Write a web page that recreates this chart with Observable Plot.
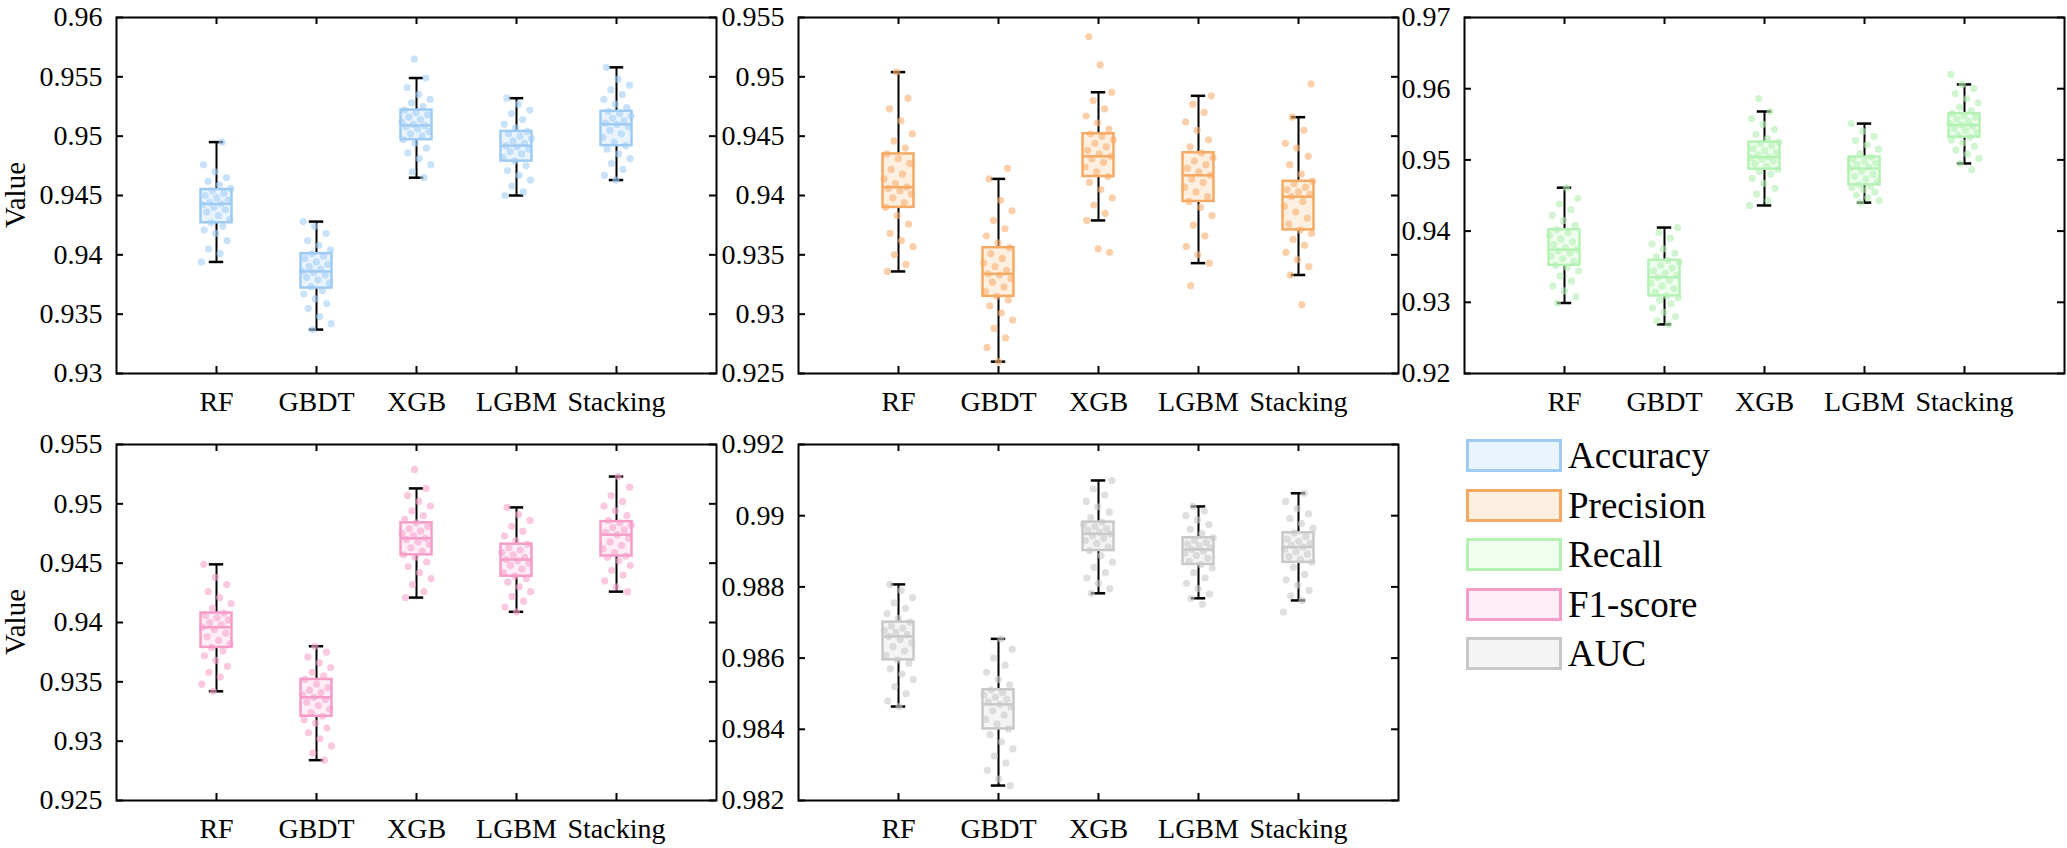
<!DOCTYPE html>
<html><head><meta charset="utf-8">
<script src="https://cdn.jsdelivr.net/npm/d3@7"></script>
<script src="https://cdn.jsdelivr.net/npm/@observablehq/plot@0.6"></script>
<style>
body{margin:0;background:#fff;}
#root{position:relative;width:2067px;height:848px;overflow:hidden;font-family:"Liberation Serif","Times New Roman",serif;background:#fff;}
.panel{position:absolute;}
.ylab{position:absolute;font-size:29px;white-space:nowrap;transform:translate(-50%,-50%) rotate(-90deg);}
.legend{position:absolute;left:1466px;top:439px;}
.item{display:flex;align-items:center;height:33px;margin-bottom:16.5px;}
.sw{width:90px;height:27px;border:3px solid;}
.lt{font-size:37px;margin-left:6px;line-height:33px;color:#000;}
</style></head>
<body><div id="root"></div>
<script>
const models = ["RF","GBDT","XGB","LGBM","Stacking"];
const metrics = ["Accuracy","Precision","Recall","F1-score","AUC"];
const strokeColors = ["#9FCBF3","#F5A962","#B3F2B3","#F59CC8","#C8C8C8"];
const fillColors   = ["#EAF4FE","#FEF0E1","#F0FEF0","#FEEEF6","#F4F4F4"];
const pointColors  = ["#A6D0F7","#F7B174","#B5EFB5","#F7A6CF","#CBCBCB"];

const yDomains = [[0.93,0.96],[0.925,0.955],[0.92,0.97],[0.925,0.955],[0.982,0.992]];
const accuracyTicks  = [0.93,0.935,0.94,0.945,0.95,0.955,0.96];
const precisionTicks = [0.925,0.93,0.935,0.94,0.945,0.95,0.955];
const recallTicks    = [0.92,0.93,0.94,0.95,0.96,0.97];
const f1Ticks        = [0.925,0.93,0.935,0.94,0.945,0.95,0.955];
const aucTicks       = [0.982,0.984,0.986,0.988,0.99,0.992];

// box statistics per model: [whiskerLow, q1, median, q3, whiskerHigh]
const accuracyBox = [
  [0.9394,0.9427,0.9443,0.9455,0.9495],
  [0.9337,0.9372,0.9386,0.9401,0.9428],
  [0.9465,0.9497,0.9509,0.9522,0.9549],
  [0.9450,0.9479,0.9492,0.9504,0.9532],
  [0.9463,0.9492,0.9510,0.9521,0.9558]];
const precisionBox = [
  [0.9336,0.9390,0.9407,0.9435,0.9504],
  [0.9260,0.9315,0.9334,0.9356,0.9414],
  [0.9379,0.9416,0.9433,0.9452,0.9487],
  [0.9343,0.9395,0.9417,0.9436,0.9484],
  [0.9333,0.9371,0.9399,0.9412,0.9466]];
const recallBox = [
  [0.9299,0.9352,0.9374,0.9402,0.9461],
  [0.9269,0.9309,0.9335,0.9359,0.9405],
  [0.9436,0.9487,0.9504,0.9525,0.9568],
  [0.9440,0.9465,0.9488,0.9504,0.9551],
  [0.9495,0.9532,0.9549,0.9565,0.9606]];
const f1Box = [
  [0.9342,0.9379,0.9396,0.9408,0.9449],
  [0.9284,0.9321,0.9337,0.9352,0.9380],
  [0.9421,0.9457,0.9471,0.9484,0.9513],
  [0.9409,0.9439,0.9453,0.9466,0.9497],
  [0.9426,0.9456,0.9474,0.9485,0.9523]];
const aucBox = [
  [0.98464,0.98595,0.98661,0.98701,0.98807],
  [0.98242,0.98401,0.98470,0.98511,0.98654],
  [0.98782,0.98902,0.98949,0.98982,0.99099],
  [0.98768,0.98863,0.98905,0.98938,0.99026],
  [0.98762,0.98869,0.98912,0.98952,0.99063]];

// individual scores per model
const accuracyPoints = [
  [0.9394,0.9401,0.9405,0.9412,0.9418,0.9421,0.9424,0.9427,0.9430,0.9433,0.9436,0.9438,0.9440,0.9442,0.9443,0.9444,0.9446,0.9448,0.9450,0.9452,0.9454,0.9456,0.9459,0.9462,0.9465,0.9470,0.9476,0.9495],
  [0.9337,0.9342,0.9348,0.9355,0.9359,0.9363,0.9367,0.9370,0.9373,0.9376,0.9379,0.9381,0.9383,0.9385,0.9386,0.9388,0.9390,0.9392,0.9394,0.9397,0.9399,0.9401,0.9404,0.9408,0.9412,0.9418,0.9424,0.9428],
  [0.9465,0.9470,0.9476,0.9481,0.9486,0.9490,0.9494,0.9497,0.9500,0.9502,0.9504,0.9506,0.9508,0.9509,0.9510,0.9512,0.9514,0.9516,0.9518,0.9520,0.9522,0.9525,0.9528,0.9531,0.9535,0.9541,0.9549,0.9565],
  [0.9450,0.9453,0.9458,0.9463,0.9467,0.9471,0.9475,0.9479,0.9482,0.9485,0.9487,0.9489,0.9491,0.9492,0.9494,0.9496,0.9498,0.9500,0.9502,0.9504,0.9507,0.9510,0.9514,0.9519,0.9522,0.9527,0.9532],
  [0.9463,0.9467,0.9472,0.9477,0.9481,0.9485,0.9489,0.9492,0.9495,0.9499,0.9502,0.9505,0.9508,0.9510,0.9511,0.9513,0.9515,0.9517,0.9519,0.9521,0.9524,0.9527,0.9531,0.9535,0.9539,0.9543,0.9548,0.9558]];
const precisionPoints = [
  [0.9336,0.9342,0.9350,0.9357,0.9362,0.9368,0.9376,0.9383,0.9390,0.9394,0.9398,0.9401,0.9404,0.9406,0.9407,0.9410,0.9414,0.9418,0.9422,0.9427,0.9431,0.9435,0.9440,0.9446,0.9452,0.9463,0.9473,0.9482,0.9504],
  [0.9260,0.9272,0.9280,0.9288,0.9295,0.9301,0.9307,0.9312,0.9315,0.9319,0.9323,0.9327,0.9330,0.9333,0.9334,0.9337,0.9340,0.9343,0.9347,0.9351,0.9356,0.9360,0.9366,0.9372,0.9379,0.9387,0.9396,0.9414,0.9423],
  [0.9352,0.9355,0.9379,0.9385,0.9392,0.9398,0.9405,0.9411,0.9416,0.9420,0.9424,0.9428,0.9431,0.9433,0.9435,0.9438,0.9441,0.9444,0.9447,0.9450,0.9452,0.9456,0.9461,0.9467,0.9473,0.9480,0.9487,0.9510,0.9534],
  [0.9324,0.9343,0.9350,0.9357,0.9366,0.9375,0.9383,0.9390,0.9395,0.9399,0.9403,0.9407,0.9411,0.9414,0.9417,0.9420,0.9423,0.9426,0.9429,0.9432,0.9436,0.9441,0.9447,0.9455,0.9462,0.9470,0.9477,0.9484],
  [0.9308,0.9333,0.9340,0.9346,0.9352,0.9358,0.9363,0.9368,0.9371,0.9376,0.9381,0.9386,0.9391,0.9395,0.9399,0.9401,0.9403,0.9405,0.9407,0.9410,0.9412,0.9418,0.9426,0.9433,0.9440,0.9444,0.9455,0.9466,0.9494]];
const recallPoints = [
  [0.9299,0.9308,0.9316,0.9323,0.9330,0.9337,0.9344,0.9349,0.9352,0.9357,0.9361,0.9365,0.9369,0.9372,0.9374,0.9377,0.9381,0.9385,0.9389,0.9394,0.9398,0.9402,0.9408,0.9415,0.9422,0.9430,0.9438,0.9446,0.9461],
  [0.9269,0.9274,0.9280,0.9286,0.9292,0.9298,0.9303,0.9306,0.9309,0.9314,0.9319,0.9323,0.9327,0.9331,0.9335,0.9338,0.9341,0.9344,0.9348,0.9352,0.9356,0.9359,0.9364,0.9369,0.9375,0.9382,0.9390,0.9398,0.9405],
  [0.9436,0.9443,0.9452,0.9460,0.9467,0.9474,0.9480,0.9484,0.9487,0.9491,0.9495,0.9498,0.9501,0.9503,0.9504,0.9507,0.9510,0.9513,0.9516,0.9520,0.9523,0.9525,0.9530,0.9536,0.9543,0.9550,0.9558,0.9568,0.9586],
  [0.9440,0.9443,0.9447,0.9451,0.9455,0.9458,0.9461,0.9463,0.9465,0.9469,0.9473,0.9477,0.9480,0.9484,0.9488,0.9490,0.9493,0.9496,0.9498,0.9501,0.9504,0.9509,0.9515,0.9521,0.9527,0.9533,0.9540,0.9551],
  [0.9486,0.9495,0.9502,0.9508,0.9514,0.9519,0.9524,0.9528,0.9532,0.9535,0.9538,0.9541,0.9544,0.9547,0.9549,0.9551,0.9554,0.9557,0.9560,0.9562,0.9565,0.9569,0.9574,0.9580,0.9586,0.9593,0.9600,0.9606,0.9620]];
const f1Points = [
  [0.9342,0.9348,0.9354,0.9358,0.9363,0.9368,0.9372,0.9376,0.9379,0.9382,0.9385,0.9388,0.9391,0.9394,0.9396,0.9398,0.9400,0.9402,0.9404,0.9406,0.9408,0.9412,0.9416,0.9421,0.9426,0.9432,0.9438,0.9449],
  [0.9284,0.9290,0.9296,0.9302,0.9307,0.9311,0.9315,0.9318,0.9321,0.9324,0.9327,0.9330,0.9333,0.9335,0.9337,0.9339,0.9341,0.9343,0.9345,0.9348,0.9352,0.9355,0.9358,0.9362,0.9366,0.9371,0.9375,0.9380],
  [0.9421,0.9426,0.9432,0.9437,0.9442,0.9447,0.9451,0.9455,0.9457,0.9460,0.9463,0.9466,0.9468,0.9470,0.9471,0.9473,0.9475,0.9477,0.9479,0.9481,0.9484,0.9487,0.9490,0.9494,0.9498,0.9502,0.9507,0.9513,0.9529],
  [0.9409,0.9413,0.9418,0.9422,0.9426,0.9430,0.9434,0.9437,0.9439,0.9442,0.9445,0.9448,0.9450,0.9452,0.9453,0.9455,0.9457,0.9459,0.9461,0.9463,0.9466,0.9469,0.9473,0.9477,0.9481,0.9486,0.9491,0.9497],
  [0.9426,0.9430,0.9435,0.9440,0.9444,0.9448,0.9452,0.9455,0.9456,0.9459,0.9462,0.9465,0.9468,0.9471,0.9474,0.9476,0.9478,0.9480,0.9482,0.9484,0.9486,0.9490,0.9494,0.9498,0.9502,0.9507,0.9514,0.9523]];
const aucPoints = [
  [0.98464,0.98480,0.98500,0.98520,0.98540,0.98555,0.98570,0.98585,0.98595,0.98608,0.98620,0.98632,0.98643,0.98652,0.98661,0.98666,0.98672,0.98678,0.98684,0.98690,0.98701,0.98712,0.98725,0.98740,0.98755,0.98770,0.98790,0.98807],
  [0.98242,0.98260,0.98285,0.98305,0.98325,0.98345,0.98365,0.98385,0.98401,0.98415,0.98428,0.98440,0.98452,0.98462,0.98470,0.98477,0.98484,0.98490,0.98496,0.98503,0.98511,0.98525,0.98540,0.98560,0.98580,0.98600,0.98625,0.98654],
  [0.98782,0.98795,0.98810,0.98825,0.98840,0.98855,0.98870,0.98888,0.98902,0.98912,0.98922,0.98930,0.98937,0.98944,0.98949,0.98954,0.98959,0.98964,0.98969,0.98975,0.98982,0.98995,0.99010,0.99025,0.99040,0.99058,0.99075,0.99099],
  [0.98751,0.98768,0.98780,0.98795,0.98810,0.98825,0.98840,0.98853,0.98863,0.98872,0.98880,0.98888,0.98895,0.98900,0.98905,0.98910,0.98915,0.98920,0.98925,0.98931,0.98938,0.98950,0.98962,0.98975,0.98988,0.99000,0.99013,0.99026],
  [0.98729,0.98762,0.98775,0.98790,0.98805,0.98820,0.98835,0.98855,0.98869,0.98877,0.98885,0.98892,0.98899,0.98906,0.98912,0.98917,0.98922,0.98928,0.98934,0.98941,0.98952,0.98965,0.98978,0.98992,0.99005,0.99020,0.99040,0.99063]];

const boxSets = [accuracyBox, precisionBox, recallBox, f1Box, aucBox];
const pointSets = [accuracyPoints, precisionPoints, recallPoints, f1Points, aucPoints];
const tickSets = [accuracyTicks, precisionTicks, recallTicks, f1Ticks, aucTicks];

const root = document.getElementById("root");
const FONT = '"Liberation Serif","Times New Roman",serif';
const W = 600, H = 356, ML = 116, MT = 18, MB = 46;
const plotLefts = [116, 798, 1464, 116, 798];
const plotTops = [17, 17, 17, 444, 444];
const xs = models.map((_, j) => j + 1);

function makePanel(mi) {
  const boxRows = models.map((name, j) => {
    const b = boxSets[mi][j];
    return {m: j + 1, lo: b[0], q1: b[1], med: b[2], q3: b[3], hi: b[4]};
  });
  const dotRows = [];
  pointSets[mi].forEach((arr, j) => arr.forEach((v, k) => {
    const off = (((k * 0.6180339887 + j * 0.37 + mi * 0.13) % 1) - 0.5) * 0.3;
    dotRows.push({x: j + 1 + off, y: v});
  }));
  const MR = mi === 2 ? 3 : 10;
  const fmt = d => String(+d.toFixed(3));
  const tickStyle = {stroke: "black", strokeWidth: 2};
  const svg = Plot.plot({
    width: ML + W + MR, height: MT + H + MB,
    marginLeft: ML, marginRight: MR, marginTop: MT, marginBottom: MB,
    x: {domain: [0, 6]},
    y: {domain: yDomains[mi]},
    style: {fontFamily: FONT, fontSize: "28px", background: "transparent", color: "black", overflow: "visible"},
    marks: [
      Plot.ruleX(boxRows, {x: "m", y1: "lo", y2: "hi", stroke: "black", strokeWidth: 2}),
      Plot.ruleY(boxRows, {y: "lo", x1: d => d.m - 0.072, x2: d => d.m + 0.072, stroke: "black", strokeWidth: 2.5}),
      Plot.ruleY(boxRows, {y: "hi", x1: d => d.m - 0.072, x2: d => d.m + 0.072, stroke: "black", strokeWidth: 2.5}),
      Plot.rect(boxRows, {x1: d => d.m - 0.155, x2: d => d.m + 0.155, y1: "q1", y2: "q3", fill: fillColors[mi]}),
      Plot.dot(dotRows, {x: "x", y: "y", r: 3.6, fill: pointColors[mi], fillOpacity: 0.62, stroke: "none"}),
      Plot.rect(boxRows, {x1: d => d.m - 0.155, x2: d => d.m + 0.155, y1: "q1", y2: "q3", fill: "none", stroke: strokeColors[mi], strokeWidth: 2.5}),
      Plot.ruleY(boxRows, {y: "med", x1: d => d.m - 0.155, x2: d => d.m + 0.155, stroke: strokeColors[mi], strokeWidth: 2.5}),
      Plot.frame({stroke: "black", strokeWidth: 2}),
      Plot.tickX(xs, {x: d => d, insetTop: H - 7, ...tickStyle}),
      Plot.tickX(xs, {x: d => d, insetBottom: H - 7, ...tickStyle}),
      Plot.tickY(tickSets[mi], {y: d => d, insetRight: W - 7, ...tickStyle}),
      Plot.tickY(tickSets[mi], {y: d => d, insetLeft: W - 7, ...tickStyle}),
      Plot.axisX({ticks: xs, tickSize: 0, tickPadding: 18, tickFormat: d => models[d - 1], label: null, fontSize: 28, fill: "black"}),
      Plot.axisY({ticks: tickSets[mi], tickSize: 0, tickPadding: 14, tickFormat: fmt, label: null, fontSize: 28, fill: "black"})
    ]
  });
  svg.classList.add("panel");
  svg.style.left = (plotLefts[mi] - ML) + "px";
  svg.style.top = (plotTops[mi] - MT) + "px";
  root.appendChild(svg);
}
metrics.forEach((_, i) => makePanel(i));

// y labels
[[15, 195], [15, 622]].forEach(([x, y]) => {
  const s = document.createElement("div");
  s.className = "ylab";
  s.textContent = "Value";
  s.style.left = x + "px";
  s.style.top = y + "px";
  root.appendChild(s);
});

// legend
const lg = document.createElement("div");
lg.className = "legend";
metrics.forEach((name, i) => {
  const it = document.createElement("div");
  it.className = "item";
  const sw = document.createElement("div");
  sw.className = "sw";
  sw.style.borderColor = strokeColors[i];
  sw.style.background = fillColors[i];
  const t = document.createElement("span");
  t.className = "lt";
  t.textContent = name;
  it.appendChild(sw); it.appendChild(t);
  lg.appendChild(it);
});
root.appendChild(lg);
</script></body></html>
